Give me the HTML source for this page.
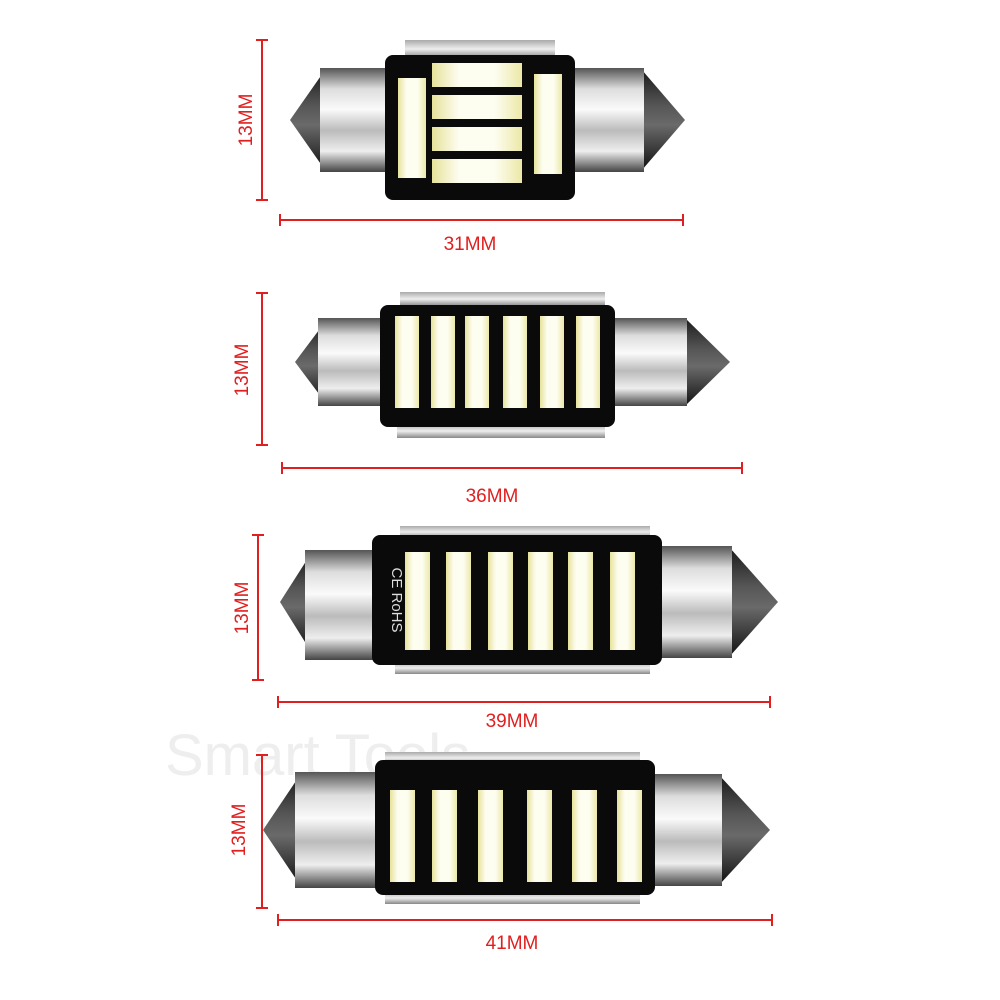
<!DOCTYPE html>
<html><head><meta charset="utf-8"><style>
html,body{margin:0;padding:0;background:#fff;}
svg{display:block}
text{font-family:"Liberation Sans",sans-serif;}
</style></head><body>
<svg width="1000" height="1000" viewBox="0 0 1000 1000" xmlns="http://www.w3.org/2000/svg">
<defs>
<linearGradient id="metal" x1="0" y1="0" x2="0" y2="1">
<stop offset="0" stop-color="#555"/><stop offset="0.2" stop-color="#ddd"/><stop offset="0.4" stop-color="#fafafa"/><stop offset="0.6" stop-color="#bbb"/><stop offset="0.8" stop-color="#eee"/><stop offset="1" stop-color="#444"/>
</linearGradient>
<linearGradient id="cone" x1="0" y1="0" x2="0" y2="1">
<stop offset="0" stop-color="#1a1a1a"/><stop offset="0.35" stop-color="#555"/><stop offset="0.55" stop-color="#6a6a6a"/><stop offset="1" stop-color="#111"/>
</linearGradient>
<linearGradient id="led" x1="0" y1="0" x2="1" y2="0">
<stop offset="0" stop-color="#e6e29a"/><stop offset="0.3" stop-color="#fdfdf0"/><stop offset="0.7" stop-color="#fdfdf0"/><stop offset="1" stop-color="#ece8a8"/>
</linearGradient>
<linearGradient id="strip" x1="0" y1="0" x2="0" y2="1">
<stop offset="0" stop-color="#aaa"/><stop offset="0.5" stop-color="#eee"/><stop offset="1" stop-color="#888"/>
</linearGradient>
</defs>

<text x="165" y="775" font-size="58" fill="#eeeeee">Smart Tools</text>

<g stroke="#e02020" stroke-width="2" fill="none">
<line x1="262" y1="40" x2="262" y2="200"/><line x1="256" y1="40" x2="268" y2="40"/><line x1="256" y1="200" x2="268" y2="200"/>
<line x1="280" y1="220" x2="683" y2="220"/><line x1="280" y1="214" x2="280" y2="226"/><line x1="683" y1="214" x2="683" y2="226"/>
<line x1="262" y1="293" x2="262" y2="445"/><line x1="256" y1="293" x2="268" y2="293"/><line x1="256" y1="445" x2="268" y2="445"/>
<line x1="282" y1="468" x2="742" y2="468"/><line x1="282" y1="462" x2="282" y2="474"/><line x1="742" y1="462" x2="742" y2="474"/>
<line x1="258" y1="535" x2="258" y2="680"/><line x1="252" y1="535" x2="264" y2="535"/><line x1="252" y1="680" x2="264" y2="680"/>
<line x1="278" y1="702" x2="770" y2="702"/><line x1="278" y1="696" x2="278" y2="708"/><line x1="770" y1="696" x2="770" y2="708"/>
<line x1="262" y1="755" x2="262" y2="908"/><line x1="256" y1="755" x2="268" y2="755"/><line x1="256" y1="908" x2="268" y2="908"/>
<line x1="278" y1="920" x2="772" y2="920"/><line x1="278" y1="914" x2="278" y2="926"/><line x1="772" y1="914" x2="772" y2="926"/>
</g>
<g fill="#e02020" font-size="19">
<text transform="translate(252,120) rotate(-90)" text-anchor="middle">13MM</text>
<text x="470" y="250" text-anchor="middle">31MM</text>
<text transform="translate(248,370) rotate(-90)" text-anchor="middle">13MM</text>
<text x="492" y="502" text-anchor="middle">36MM</text>
<text transform="translate(248,608) rotate(-90)" text-anchor="middle">13MM</text>
<text x="512" y="727" text-anchor="middle">39MM</text>
<text transform="translate(245,830) rotate(-90)" text-anchor="middle">13MM</text>
<text x="512" y="949" text-anchor="middle">41MM</text>
</g>

<g>
<rect x="405" y="40" width="150" height="18" fill="url(#strip)"/>
<polygon points="290,120 325,70 325,170" fill="url(#cone)"/>
<rect x="320" y="68" width="72" height="104" fill="url(#metal)"/>
<polygon points="685,120 642,70 642,170" fill="url(#cone)"/>
<rect x="570" y="68" width="74" height="104" fill="url(#metal)"/>
<rect x="385" y="55" width="190" height="145" rx="8" fill="#0a0a0a"/>
<rect x="398" y="78" width="28" height="100" fill="url(#led)"/>
<rect x="534" y="74" width="28" height="100" fill="url(#led)"/>
<rect x="432" y="63" width="90" height="24" fill="url(#led)"/>
<rect x="432" y="95" width="90" height="24" fill="url(#led)"/>
<rect x="432" y="127" width="90" height="24" fill="url(#led)"/>
<rect x="432" y="159" width="90" height="24" fill="url(#led)"/>
</g>

<g>
<rect x="400" y="292" width="205" height="14" fill="url(#strip)"/>
<rect x="397" y="424" width="208" height="14" fill="url(#strip)"/>
<polygon points="295,362 325,322 325,402" fill="url(#cone)"/>
<rect x="318" y="318" width="68" height="88" fill="url(#metal)"/>
<polygon points="730,362 685,318 685,406" fill="url(#cone)"/>
<rect x="612" y="318" width="75" height="88" fill="url(#metal)"/>
<rect x="380" y="305" width="235" height="122" rx="8" fill="#0a0a0a"/>
<rect x="395" y="316" width="24" height="92" fill="url(#led)"/>
<rect x="431" y="316" width="24" height="92" fill="url(#led)"/>
<rect x="465" y="316" width="24" height="92" fill="url(#led)"/>
<rect x="503" y="316" width="24" height="92" fill="url(#led)"/>
<rect x="540" y="316" width="24" height="92" fill="url(#led)"/>
<rect x="576" y="316" width="24" height="92" fill="url(#led)"/>
</g>

<g>
<rect x="400" y="526" width="250" height="12" fill="url(#strip)"/>
<rect x="395" y="662" width="255" height="12" fill="url(#strip)"/>
<polygon points="280,602 310,555 310,650" fill="url(#cone)"/>
<rect x="305" y="550" width="72" height="110" fill="url(#metal)"/>
<polygon points="778,602 730,548 730,656" fill="url(#cone)"/>
<rect x="658" y="546" width="74" height="112" fill="url(#metal)"/>
<rect x="372" y="535" width="290" height="130" rx="8" fill="#0a0a0a"/>
<text transform="translate(392,600) rotate(90)" text-anchor="middle" fill="#ddd" font-size="15">CE RoHS</text>
<rect x="405" y="552" width="25" height="98" fill="url(#led)"/>
<rect x="446" y="552" width="25" height="98" fill="url(#led)"/>
<rect x="488" y="552" width="25" height="98" fill="url(#led)"/>
<rect x="528" y="552" width="25" height="98" fill="url(#led)"/>
<rect x="568" y="552" width="25" height="98" fill="url(#led)"/>
<rect x="610" y="552" width="25" height="98" fill="url(#led)"/>
</g>

<g>
<rect x="385" y="752" width="255" height="12" fill="url(#strip)"/>
<rect x="385" y="892" width="255" height="12" fill="url(#strip)"/>
<polygon points="263,830 300,775 300,885" fill="url(#cone)"/>
<rect x="295" y="772" width="82" height="116" fill="url(#metal)"/>
<polygon points="770,830 720,776 720,884" fill="url(#cone)"/>
<rect x="652" y="774" width="70" height="112" fill="url(#metal)"/>
<rect x="375" y="760" width="280" height="135" rx="8" fill="#0a0a0a"/>
<rect x="390" y="790" width="25" height="92" fill="url(#led)"/>
<rect x="432" y="790" width="25" height="92" fill="url(#led)"/>
<rect x="478" y="790" width="25" height="92" fill="url(#led)"/>
<rect x="527" y="790" width="25" height="92" fill="url(#led)"/>
<rect x="572" y="790" width="25" height="92" fill="url(#led)"/>
<rect x="617" y="790" width="25" height="92" fill="url(#led)"/>
</g>
</svg>
</body></html>
